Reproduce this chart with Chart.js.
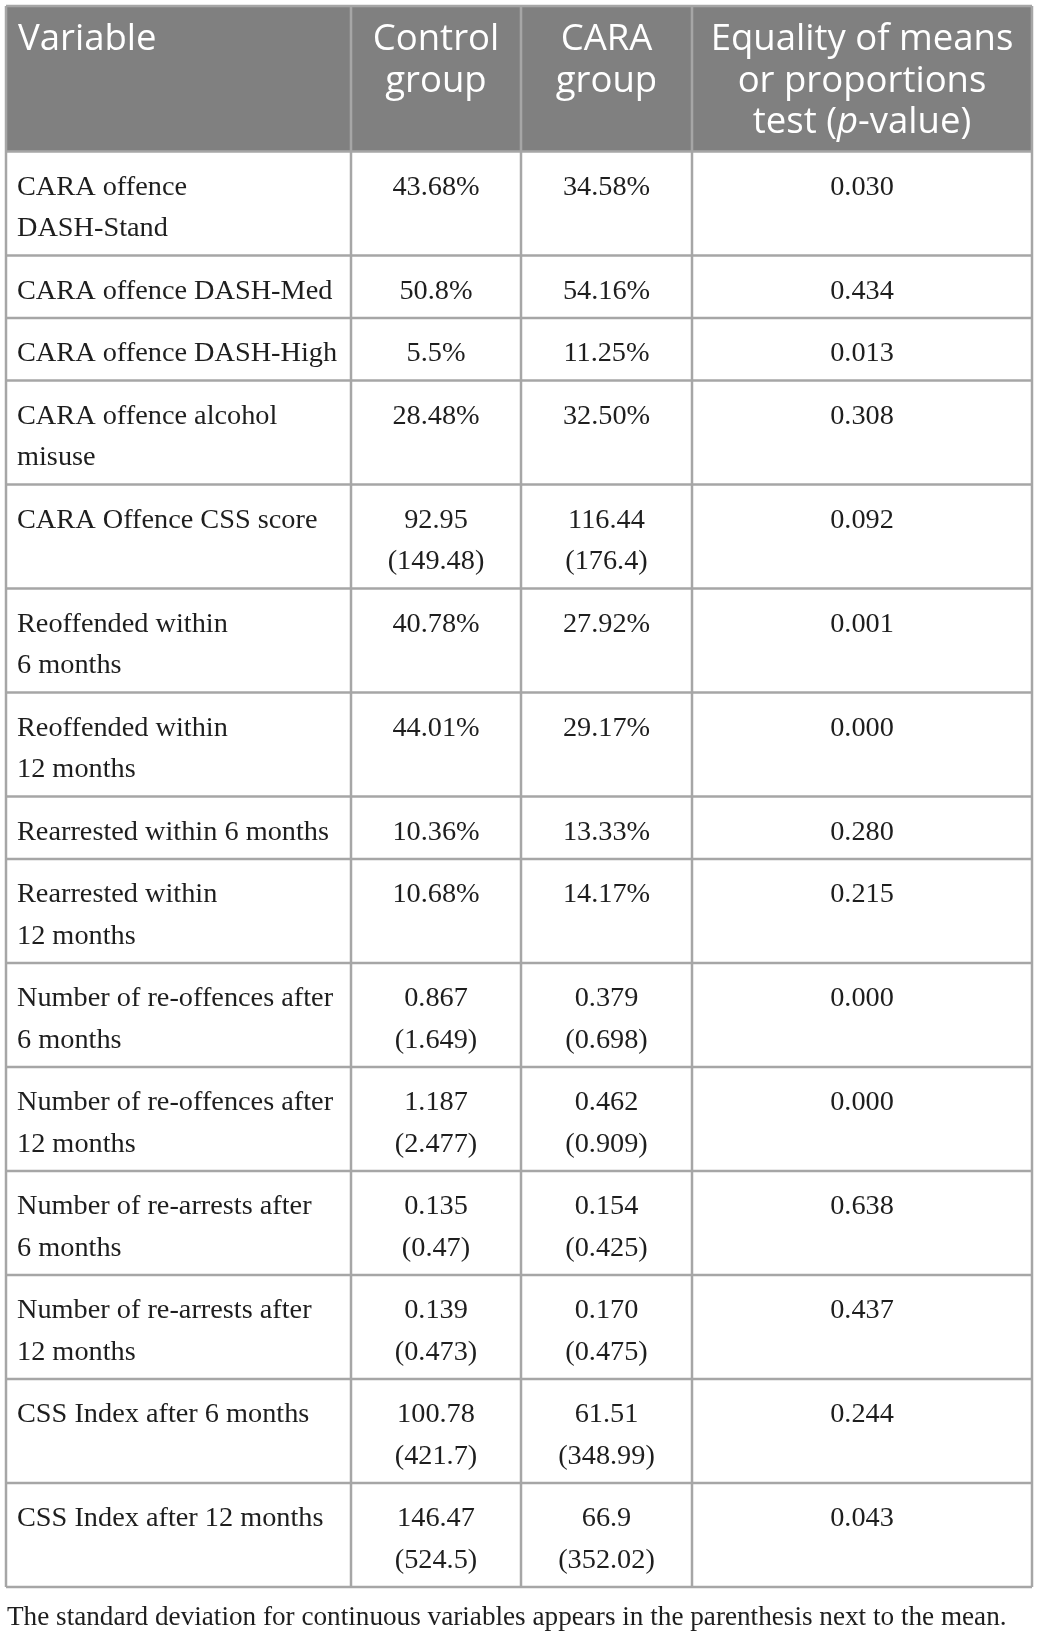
<!DOCTYPE html>
<html>
<head>
<meta charset="utf-8">
<script src="https://cdn.jsdelivr.net/npm/chart.js@4"></script>
<style>
  body { margin: 0; background: #fff; }
  #wrap { width: 1039px; height: 1637px; }
</style>
</head>
<body>
<div id="wrap"><canvas id="myChart" width="1039" height="1637"></canvas></div>
<script>
// table content
const headers = [['Variable'], ['Control', 'group'], ['CARA', 'group'], ['Equality of means', 'or proportions', 'test (|p|-value)']];
const variables = [
  'CARA offence\nDASH-Stand',
  'CARA offence DASH-Med',
  'CARA offence DASH-High',
  'CARA offence alcohol\nmisuse',
  'CARA Offence CSS score',
  'Reoffended within\n6 months',
  'Reoffended within\n12 months',
  'Rearrested within 6 months',
  'Rearrested within\n12 months',
  'Number of re-offences after\n6 months',
  'Number of re-offences after\n12 months',
  'Number of re-arrests after\n6 months',
  'Number of re-arrests after\n12 months',
  'CSS Index after 6 months',
  'CSS Index after 12 months'
];
const controlMean = ['43.68%', '50.8%', '5.5%', '28.48%', '92.95', '40.78%', '44.01%', '10.36%', '10.68%', '0.867', '1.187', '0.135', '0.139', '100.78', '146.47'];
const controlSD = [null, null, null, null, '149.48', null, null, null, null, '1.649', '2.477', '0.47', '0.473', '421.7', '524.5'];
const caraMean = ['34.58%', '54.16%', '11.25%', '32.50%', '116.44', '27.92%', '29.17%', '13.33%', '14.17%', '0.379', '0.462', '0.154', '0.170', '61.51', '66.9'];
const caraSD = [null, null, null, null, '176.4', null, null, null, null, '0.698', '0.909', '0.425', '0.475', '348.99', '352.02'];
const pValues = ['0.030', '0.434', '0.013', '0.308', '0.092', '0.001', '0.000', '0.280', '0.215', '0.000', '0.000', '0.638', '0.437', '0.244', '0.043'];
const footnote = 'The standard deviation for continuous variables appears in the parenthesis next to the mean.';

// layout (page pixels)
const colEdges = [6, 351, 521, 692, 1032];
const tableTop = 6, headerBottom = 151.5;
const lineStep = 41.5;
const rowPad = 21;

const cellText = (mean, sd) => sd ? [mean, '(' + sd + ')'] : [mean];

const tablePlugin = {
  id: 'tablePlugin',
  beforeDraw(chart) {
    const ctx = chart.ctx;
    ctx.save();
    ctx.fillStyle = '#fff';
    ctx.fillRect(0, 0, chart.width, chart.height);
    ctx.restore();
  },
  afterDraw(chart) {
    const ctx = chart.ctx;
    const px = v => chart.scales.x.getPixelForValue(v);
    const py = v => chart.scales.y.getPixelForValue(v);

    // rows
    const rows = variables.map((v, i) => [
      v.split('\n'),
      cellText(controlMean[i], controlSD[i]),
      cellText(caraMean[i], caraSD[i]),
      [pValues[i]]
    ]);
    const rowEdges = [headerBottom];
    rows.forEach(r => {
      const n = Math.max(...r.map(c => c.length));
      rowEdges.push(rowEdges[rowEdges.length - 1] + rowPad + n * lineStep);
    });
    const tableBottom = rowEdges[rowEdges.length - 1];

    ctx.save();
    // header background
    ctx.fillStyle = '#808080';
    ctx.fillRect(px(colEdges[0]), py(tableTop), px(colEdges[4]) - px(colEdges[0]), py(headerBottom) - py(tableTop));

    // header text
    ctx.fillStyle = '#ffffff';
    ctx.textBaseline = 'alphabetic';
    headers.forEach((lines, c) => {
      lines.forEach((ln, k) => {
        const y = py(tableTop + 44 + k * 41.5);
        const parts = ln.split('|');
        const fonts = parts.map((p, j) => (j % 2 ? 'italic ' : '') + '36.5px "Open Sans"');
        let w = 0;
        parts.forEach((p, j) => { ctx.font = fonts[j]; w += ctx.measureText(p).width; });
        let x = c === 0 ? px(colEdges[0] + 12) : (px(colEdges[c]) + px(colEdges[c + 1])) / 2 - w / 2;
        ctx.textAlign = 'left';
        parts.forEach((p, j) => { ctx.font = fonts[j]; ctx.fillText(p, x, y); x += ctx.measureText(p).width; });
      });
    });

    // body text
    ctx.fillStyle = '#1e1e1e';
    ctx.font = '28.3px "Liberation Serif"';
    rows.forEach((r, i) => {
      r.forEach((lines, c) => {
        lines.forEach((ln, k) => {
          const y = py(rowEdges[i] + 43 + k * lineStep);
          if (c === 0) {
            ctx.textAlign = 'left';
            ctx.fillText(ln, px(colEdges[0] + 11), y);
          } else {
            ctx.textAlign = 'center';
            ctx.fillText(ln, (px(colEdges[c]) + px(colEdges[c + 1])) / 2, y);
          }
        });
      });
    });

    // grid lines
    ctx.strokeStyle = '#a6a6a6';
    ctx.lineWidth = 2.5;
    ctx.beginPath();
    [tableTop].concat(rowEdges).forEach(y => {
      ctx.moveTo(px(colEdges[0]), py(y));
      ctx.lineTo(px(colEdges[4]), py(y));
    });
    colEdges.forEach(x => {
      ctx.moveTo(px(x), py(tableTop));
      ctx.lineTo(px(x), py(tableBottom));
    });
    ctx.stroke();

    // footnote
    ctx.fillStyle = '#1e1e1e';
    ctx.font = '27.2px "Liberation Serif"';
    ctx.textAlign = 'left';
    ctx.fillText(footnote, px(7), py(1625));
    ctx.restore();
  }
};

new Chart(document.getElementById('myChart'), {
  type: 'scatter',
  data: { datasets: [{ data: [], pointRadius: 0 }] },
  options: {
    responsive: false,
    animation: false,
    devicePixelRatio: 1,
    layout: { padding: 0 },
    plugins: { legend: { display: false }, tooltip: { enabled: false } },
    scales: {
      x: { type: 'linear', min: 0, max: 1039, display: false },
      y: { type: 'linear', min: 0, max: 1637, reverse: true, display: false }
    }
  },
  plugins: [tablePlugin]
});
</script>
</body>
</html>
